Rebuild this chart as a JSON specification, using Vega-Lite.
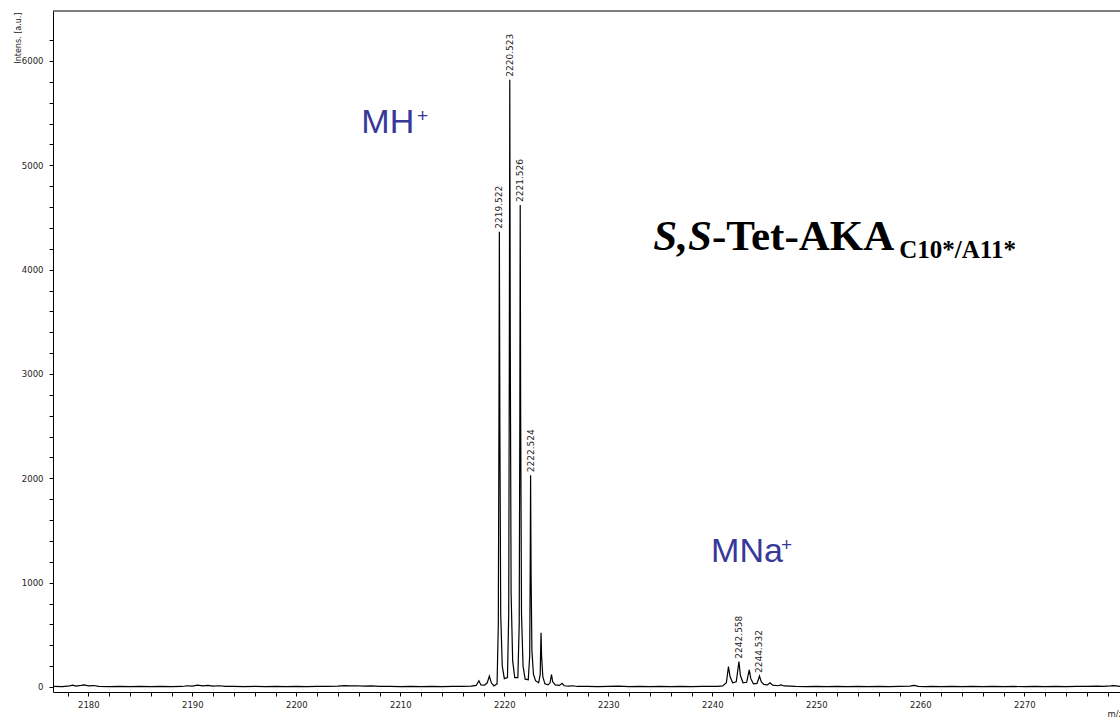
{
  "$schema": "https://vega.github.io/schema/vega-lite/v6.json",
  "width": 1067,
  "height": 681,
  "autosize": {"type": "none"},
  "padding": {"left": 53, "top": 11, "right": 0, "bottom": 25},
  "background": "white",
  "view": {"stroke": null},
  "config": {
    "axis": {"grid": false, "domainColor": "#000", "tickColor": "#000", "labelFont": "DejaVu Sans", "titleFont": "DejaVu Sans", "labelColor": "#222", "titleColor": "#222", "titleFontWeight": "normal", "labelFlush": false, "labelOverlap": false}
  },
  "datasets": {
    "spectrum": [
      {"mz": 2176.6, "i": 5}, {"mz": 2177.5, "i": 3}, {"mz": 2178.2, "i": 10}, {"mz": 2178.5, "i": 18}, {"mz": 2178.8, "i": 8},
      {"mz": 2179.3, "i": 15}, {"mz": 2179.6, "i": 20}, {"mz": 2180.0, "i": 10}, {"mz": 2180.5, "i": 14}, {"mz": 2181.0, "i": 6},
      {"mz": 2182.0, "i": 4}, {"mz": 2183.0, "i": 6}, {"mz": 2184.0, "i": 3}, {"mz": 2185.0, "i": 5}, {"mz": 2186.0, "i": 3},
      {"mz": 2187.0, "i": 6}, {"mz": 2188.0, "i": 4}, {"mz": 2189.0, "i": 5}, {"mz": 2189.5, "i": 12}, {"mz": 2190.0, "i": 8},
      {"mz": 2190.5, "i": 18}, {"mz": 2191.0, "i": 10}, {"mz": 2191.5, "i": 15}, {"mz": 2192.0, "i": 8}, {"mz": 2192.6, "i": 12},
      {"mz": 2193.2, "i": 5}, {"mz": 2194.0, "i": 6}, {"mz": 2195.0, "i": 3}, {"mz": 2196.0, "i": 5}, {"mz": 2197.0, "i": 4},
      {"mz": 2198.0, "i": 6}, {"mz": 2199.0, "i": 3}, {"mz": 2200.0, "i": 5}, {"mz": 2201.0, "i": 4}, {"mz": 2202.0, "i": 6},
      {"mz": 2203.0, "i": 5}, {"mz": 2204.0, "i": 8}, {"mz": 2204.6, "i": 14}, {"mz": 2205.2, "i": 10}, {"mz": 2205.8, "i": 12},
      {"mz": 2206.5, "i": 8}, {"mz": 2207.2, "i": 10}, {"mz": 2208.0, "i": 5}, {"mz": 2209.0, "i": 6}, {"mz": 2210.0, "i": 4},
      {"mz": 2211.0, "i": 5}, {"mz": 2212.0, "i": 3}, {"mz": 2213.0, "i": 6}, {"mz": 2214.0, "i": 4}, {"mz": 2215.0, "i": 6},
      {"mz": 2216.0, "i": 5}, {"mz": 2216.8, "i": 8}, {"mz": 2217.3, "i": 15}, {"mz": 2217.55, "i": 60}, {"mz": 2217.75, "i": 20},
      {"mz": 2218.1, "i": 18}, {"mz": 2218.35, "i": 40}, {"mz": 2218.56, "i": 105}, {"mz": 2218.75, "i": 40}, {"mz": 2219.0, "i": 10},
      {"mz": 2219.3, "i": 30}, {"mz": 2219.42, "i": 600}, {"mz": 2219.48, "i": 2500}, {"mz": 2219.522, "i": 4364}, {"mz": 2219.57, "i": 2500},
      {"mz": 2219.65, "i": 700}, {"mz": 2219.8, "i": 200}, {"mz": 2220.0, "i": 80}, {"mz": 2220.3, "i": 90}, {"mz": 2220.42, "i": 700},
      {"mz": 2220.48, "i": 3200}, {"mz": 2220.523, "i": 5820}, {"mz": 2220.57, "i": 3300}, {"mz": 2220.65, "i": 900}, {"mz": 2220.8, "i": 250},
      {"mz": 2221.0, "i": 90}, {"mz": 2221.3, "i": 90}, {"mz": 2221.43, "i": 600}, {"mz": 2221.49, "i": 2600}, {"mz": 2221.526, "i": 4620},
      {"mz": 2221.57, "i": 2600}, {"mz": 2221.65, "i": 700}, {"mz": 2221.8, "i": 200}, {"mz": 2222.0, "i": 75}, {"mz": 2222.3, "i": 70},
      {"mz": 2222.44, "i": 300}, {"mz": 2222.49, "i": 1200}, {"mz": 2222.524, "i": 2030}, {"mz": 2222.57, "i": 1100}, {"mz": 2222.65, "i": 350},
      {"mz": 2222.8, "i": 120}, {"mz": 2223.0, "i": 60}, {"mz": 2223.3, "i": 40}, {"mz": 2223.45, "i": 120}, {"mz": 2223.5, "i": 400},
      {"mz": 2223.53, "i": 520}, {"mz": 2223.58, "i": 300}, {"mz": 2223.7, "i": 100}, {"mz": 2223.9, "i": 30}, {"mz": 2224.2, "i": 20},
      {"mz": 2224.4, "i": 40}, {"mz": 2224.53, "i": 120}, {"mz": 2224.65, "i": 50}, {"mz": 2224.9, "i": 20}, {"mz": 2225.3, "i": 15},
      {"mz": 2225.55, "i": 35}, {"mz": 2225.75, "i": 12}, {"mz": 2226.2, "i": 8}, {"mz": 2226.6, "i": 12}, {"mz": 2227.0, "i": 5},
      {"mz": 2228.0, "i": 6}, {"mz": 2229.0, "i": 4}, {"mz": 2230.0, "i": 5}, {"mz": 2231.0, "i": 8}, {"mz": 2232.0, "i": 4},
      {"mz": 2233.0, "i": 6}, {"mz": 2234.0, "i": 3}, {"mz": 2235.0, "i": 5}, {"mz": 2236.0, "i": 4}, {"mz": 2237.0, "i": 6},
      {"mz": 2238.0, "i": 3}, {"mz": 2239.0, "i": 5}, {"mz": 2240.0, "i": 6}, {"mz": 2240.5, "i": 5}, {"mz": 2241.0, "i": 10},
      {"mz": 2241.35, "i": 40}, {"mz": 2241.55, "i": 195}, {"mz": 2241.7, "i": 100}, {"mz": 2241.95, "i": 40}, {"mz": 2242.3, "i": 50},
      {"mz": 2242.558, "i": 243}, {"mz": 2242.7, "i": 110}, {"mz": 2242.95, "i": 40}, {"mz": 2243.3, "i": 45}, {"mz": 2243.55, "i": 165},
      {"mz": 2243.7, "i": 80}, {"mz": 2243.95, "i": 30}, {"mz": 2244.3, "i": 35}, {"mz": 2244.532, "i": 105}, {"mz": 2244.7, "i": 50},
      {"mz": 2244.95, "i": 25}, {"mz": 2245.3, "i": 20}, {"mz": 2245.55, "i": 40}, {"mz": 2245.8, "i": 18}, {"mz": 2246.3, "i": 12},
      {"mz": 2246.6, "i": 20}, {"mz": 2246.9, "i": 10}, {"mz": 2247.5, "i": 8}, {"mz": 2248.0, "i": 5}, {"mz": 2249.0, "i": 4},
      {"mz": 2250.0, "i": 6}, {"mz": 2251.0, "i": 3}, {"mz": 2252.0, "i": 5}, {"mz": 2253.0, "i": 4}, {"mz": 2254.0, "i": 6},
      {"mz": 2255.0, "i": 3}, {"mz": 2256.0, "i": 5}, {"mz": 2257.0, "i": 4}, {"mz": 2258.0, "i": 6}, {"mz": 2259.0, "i": 8},
      {"mz": 2259.4, "i": 15}, {"mz": 2259.8, "i": 6}, {"mz": 2260.5, "i": 4}, {"mz": 2261.0, "i": 5}, {"mz": 2262.0, "i": 3},
      {"mz": 2263.0, "i": 5}, {"mz": 2264.0, "i": 4}, {"mz": 2265.0, "i": 6}, {"mz": 2266.0, "i": 3}, {"mz": 2267.0, "i": 5},
      {"mz": 2268.0, "i": 4}, {"mz": 2269.0, "i": 5}, {"mz": 2270.0, "i": 3}, {"mz": 2271.0, "i": 5}, {"mz": 2272.0, "i": 4},
      {"mz": 2273.0, "i": 6}, {"mz": 2274.0, "i": 4}, {"mz": 2275.0, "i": 5}, {"mz": 2276.0, "i": 6}, {"mz": 2277.0, "i": 8},
      {"mz": 2277.6, "i": 6}, {"mz": 2278.3, "i": 10}, {"mz": 2278.6, "i": 14}, {"mz": 2279.2, "i": 6}
    ],
    "peaks": [
      {"mz": 2219.522, "i": 4364, "label": "2219.522"},
      {"mz": 2220.523, "i": 5820, "label": "2220.523"},
      {"mz": 2221.526, "i": 4620, "label": "2221.526"},
      {"mz": 2222.524, "i": 2030, "label": "2222.524"},
      {"mz": 2242.558, "i": 243, "label": "2242.558"},
      {"mz": 2244.532, "i": 105, "label": "2244.532"}
    ],
    "one": [{}]
  },
  "layer": [
    {
      "data": {"name": "spectrum"},
      "mark": {"type": "line", "color": "#000", "strokeWidth": 1.2, "clip": true},
      "encoding": {
        "x": {
          "field": "mz", "type": "quantitative",
          "scale": {"domain": [2176.6, 2279.2], "nice": false, "zero": false},
          "axis": {
            "values": [2178, 2180, 2182, 2184, 2186, 2188, 2190, 2192, 2194, 2196, 2198, 2200, 2202, 2204, 2206, 2208, 2210, 2212, 2214, 2216, 2218, 2220, 2222, 2224, 2226, 2228, 2230, 2232, 2234, 2236, 2238, 2240, 2242, 2244, 2246, 2248, 2250, 2252, 2254, 2256, 2258, 2260, 2262, 2264, 2266, 2268, 2270, 2272, 2274, 2276, 2278],
            "tickCount": 200,
            "labelExpr": "datum.value % 10 === 0 ? format(datum.value, 'd') : ''",
            "labelOverlap": false,
            "tickSize": 4, "labelFontSize": 8.5, "labelPadding": 4,
            "title": "m/z", "titleFontSize": 8.5, "titleX": 1054, "titleY": 24, "titleAlign": "left", "titleBaseline": "alphabetic", "titleAngle": 0
          }
        },
        "y": {
          "field": "i", "type": "quantitative",
          "scale": {"domain": [-48, 6479], "nice": false, "zero": false},
          "axis": {
            "values": [0, 200, 400, 600, 800, 1000, 1200, 1400, 1600, 1800, 2000, 2200, 2400, 2600, 2800, 3000, 3200, 3400, 3600, 3800, 4000, 4200, 4400, 4600, 4800, 5000, 5200, 5400, 5600, 5800, 6000, 6200],
            "tickCount": 200,
            "labelExpr": "datum.value % 1000 === 0 ? format(datum.value, 'd') : ''",
            "labelOverlap": false,
            "tickSize": 4, "labelFontSize": 8.5, "labelPadding": 6,
            "title": "Intens. [a.u.]", "titleFontSize": 8, "titleAngle": 270, "titleX": -35, "titleY": 1, "titleAlign": "right", "titleBaseline": "middle"
          }
        }
      }
    },
    {
      "data": {"name": "one"},
      "mark": {"type": "rule", "color": "#000", "strokeWidth": 1},
      "encoding": {
        "y": {"datum": 6479, "type": "quantitative", "scale": {"domain": [-48, 6479], "nice": false, "zero": false}}
      }
    },
    {
      "data": {"name": "peaks"},
      "mark": {"type": "text", "angle": 270, "align": "left", "baseline": "middle", "dx": 3, "fontSize": 9, "font": "DejaVu Sans", "color": "#222"},
      "encoding": {
        "x": {"field": "mz", "type": "quantitative", "scale": {"domain": [2176.6, 2279.2], "nice": false, "zero": false}},
        "y": {"field": "i", "type": "quantitative", "scale": {"domain": [-48, 6479], "nice": false, "zero": false}},
        "text": {"field": "label"}
      }
    },
    {
      "data": {"name": "one"},
      "mark": {"type": "text", "text": "MH", "align": "left", "baseline": "alphabetic", "fontSize": 34, "font": "Liberation Sans", "color": "#38389a"},
      "encoding": {
        "x": {"datum": 2206.25, "type": "quantitative", "scale": {"domain": [2176.6, 2279.2], "nice": false, "zero": false}},
        "y": {"datum": 5310, "type": "quantitative", "scale": {"domain": [-48, 6479], "nice": false, "zero": false}}
      }
    },
    {
      "data": {"name": "one"},
      "mark": {"type": "text", "text": "+", "align": "left", "baseline": "middle", "fontSize": 19, "font": "Liberation Sans", "color": "#38389a"},
      "encoding": {
        "x": {"datum": 2211.6, "type": "quantitative", "scale": {"domain": [2176.6, 2279.2], "nice": false, "zero": false}},
        "y": {"datum": 5473, "type": "quantitative", "scale": {"domain": [-48, 6479], "nice": false, "zero": false}}
      }
    },
    {
      "data": {"name": "one"},
      "mark": {"type": "text", "text": "MNa", "align": "left", "baseline": "alphabetic", "fontSize": 34, "font": "Liberation Sans", "color": "#38389a"},
      "encoding": {
        "x": {"datum": 2239.88, "type": "quantitative", "scale": {"domain": [2176.6, 2279.2], "nice": false, "zero": false}},
        "y": {"datum": 1201, "type": "quantitative", "scale": {"domain": [-48, 6479], "nice": false, "zero": false}}
      }
    },
    {
      "data": {"name": "one"},
      "mark": {"type": "text", "text": "+", "align": "left", "baseline": "middle", "fontSize": 19, "font": "Liberation Sans", "color": "#38389a"},
      "encoding": {
        "x": {"datum": 2246.6, "type": "quantitative", "scale": {"domain": [2176.6, 2279.2], "nice": false, "zero": false}},
        "y": {"datum": 1361, "type": "quantitative", "scale": {"domain": [-48, 6479], "nice": false, "zero": false}}
      }
    },
    {
      "data": {"name": "one"},
      "mark": {"type": "text", "text": "S,S", "align": "left", "baseline": "alphabetic", "fontSize": 43, "font": "Liberation Serif", "fontWeight": "bold", "fontStyle": "italic", "color": "#000"},
      "encoding": {
        "x": {"datum": 2234.33, "type": "quantitative", "scale": {"domain": [2176.6, 2279.2], "nice": false, "zero": false}},
        "y": {"datum": 4189, "type": "quantitative", "scale": {"domain": [-48, 6479], "nice": false, "zero": false}}
      }
    },
    {
      "data": {"name": "one"},
      "mark": {"type": "text", "text": "-Tet-AKA", "align": "left", "baseline": "alphabetic", "fontSize": 43, "font": "Liberation Serif", "fontWeight": "bold", "color": "#000"},
      "encoding": {
        "x": {"datum": 2239.96, "type": "quantitative", "scale": {"domain": [2176.6, 2279.2], "nice": false, "zero": false}},
        "y": {"datum": 4189, "type": "quantitative", "scale": {"domain": [-48, 6479], "nice": false, "zero": false}}
      }
    },
    {
      "data": {"name": "one"},
      "mark": {"type": "text", "text": "C10*/A11*", "align": "left", "baseline": "alphabetic", "fontSize": 25, "font": "Liberation Serif", "fontWeight": "bold", "color": "#000"},
      "encoding": {
        "x": {"datum": 2257.98, "type": "quantitative", "scale": {"domain": [2176.6, 2279.2], "nice": false, "zero": false}},
        "y": {"datum": 4112, "type": "quantitative", "scale": {"domain": [-48, 6479], "nice": false, "zero": false}}
      }
    }
  ]
}
